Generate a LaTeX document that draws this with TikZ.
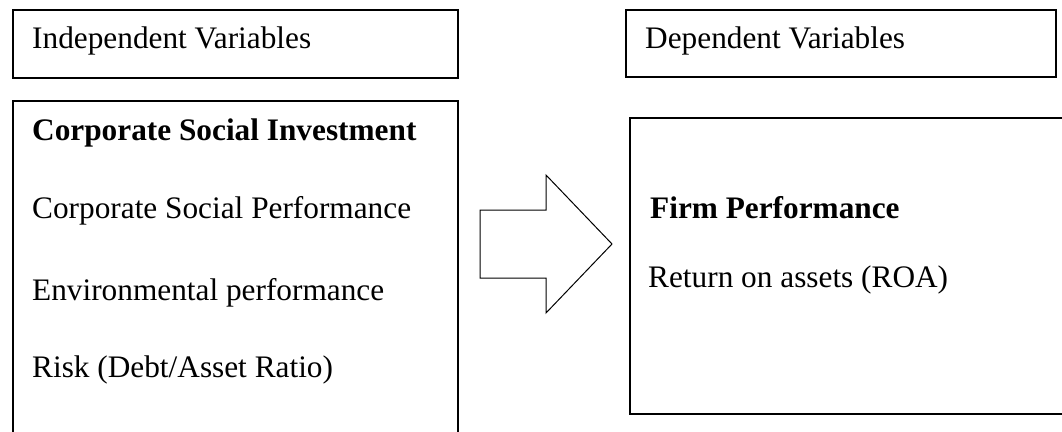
\documentclass[tikz,border=0pt]{standalone}
\usepackage{fontspec}
\setmainfont{Liberation Serif}
\begin{document}
\begin{tikzpicture}[x=1pt,y=-1pt,
  box/.style={draw, line width=1.5pt, inner sep=0pt, anchor=north west},
  lbl/.style={anchor=base west, inner sep=0pt, font=\fontsize{31.3}{37}\selectfont},
  blockarrow/.style={draw, line width=1pt, line join=miter}]
\useasboundingbox (0,0) rectangle (1062,431);
\clip (0,0) rectangle (1062,431);
% boxes
\node[box, minimum width=445pt, minimum height=68pt] (ivbox) at (12,9) {};
\node[box, minimum width=445pt, minimum height=360pt] (leftbox) at (12,100) {};
\node[box, minimum width=430pt, minimum height=67pt] (dvbox) at (625,9) {};
\node[box, minimum width=460pt, minimum height=296pt] (rightbox) at (629,117) {};
% texts
\node[lbl] (iv) at (32,48) {Independent Variables};
\node[lbl] (csi) at (32,140) {\bfseries Corporate Social Investment};
\node[lbl] (csp) at (32,218) {Corporate Social Performance};
\node[lbl] (env) at (32,300) {Environmental performance};
\node[lbl] (risk) at (32,377) {Risk (Debt/Asset Ratio)};
\node[lbl] (dv) at (645,48) {Dependent Variables};
\node[lbl] (fp) at (650,218) {\bfseries Firm Performance};
\node[lbl] (roa) at (648,287) {Return on assets (ROA)};
% block arrow
\draw[blockarrow] (480,210) -- (546,210) -- (546,175) -- (612,244) -- (546,313) -- (546,278) -- (480,278) -- cycle;
\end{tikzpicture}
\end{document}
